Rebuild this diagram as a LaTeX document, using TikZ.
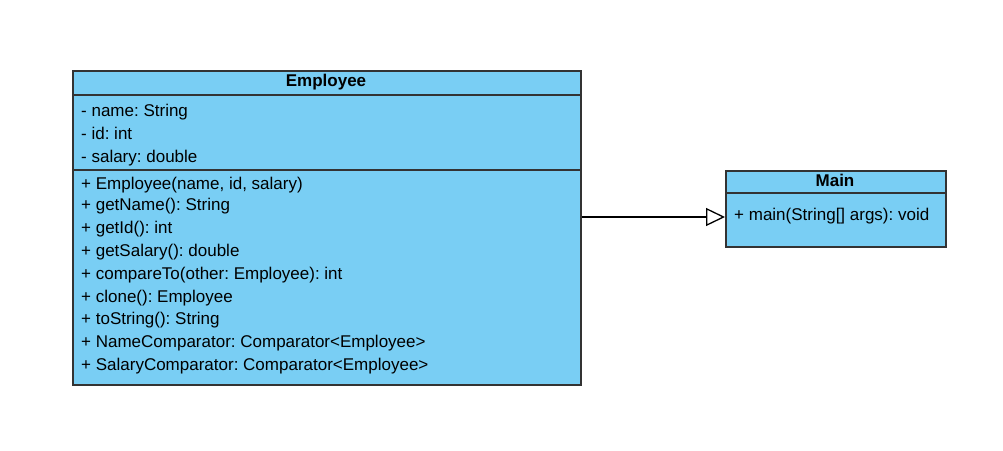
\documentclass[tikz,border=0pt]{standalone}
\usepackage{fontspec}
\setmainfont{Liberation Sans}
\usetikzlibrary{arrows.meta,calc}
\frenchspacing
\definecolor{classfill}{HTML}{79CEF4}
\definecolor{classline}{HTML}{333333}
\tikzset{
  classbox/.style={draw=classline, fill=classfill, line width=1.6pt, inner sep=0pt, anchor=north west},
  sepline/.style={draw=classline, line width=1.6pt},
  member/.style={anchor=base west, inner sep=0pt, font=\fontsize{17}{20}\selectfont},
  title/.style={anchor=base, inner sep=0pt, font=\fontsize{17}{20}\selectfont\bfseries},
  inherit/.style={draw=black, line width=1.3pt, -{Triangle[open, length=19pt, width=18pt, line width=1.3pt]}}
}
\begin{document}
\begin{tikzpicture}[x=1pt, y=-1pt]
\useasboundingbox (0,0) rectangle (1003,450);

% Employee class
\node[classbox, minimum width=508pt, minimum height=314pt] (emp) at (72,70) {};
\draw[sepline] (72,95) -- (580,95);
\draw[sepline] (72,170) -- (580,170);
\node[title] (empname) at (326,86.5) {Employee};
\node[member] (a1) at (81,116) {- name: String};
\node[member] (a2) at (81,139) {- id: int};
\node[member] (a3) at (81,162) {- salary: double};
\node[member] (m1) at (81,189) {+ Employee(name, id, salary)};
\node[member] (m2) at (81,210.5) {+ getName(): String};
\node[member] (m3) at (81,233) {+ getId(): int};
\node[member] (m4) at (81,256) {+ getSalary(): double};
\node[member] (m5) at (81,279) {+ compareTo(other: Employee): int};
\node[member] (m6) at (81,302) {+ clone(): Employee};
\node[member] (m7) at (81,324) {+ toString(): String};
\node[member] (m8) at (81,347) {+ NameComparator: Comparator<Employee>};
\node[member] (m9) at (81,370) {+ SalaryComparator: Comparator<Employee>};

% Main class
\node[classbox, minimum width=220pt, minimum height=76pt] (main) at (725,170) {};
\draw[sepline] (725,193) -- (945,193);
\node[title] (mainname) at (835,186) {Main};
\node[member] (mm1) at (734,220) {+ main(String[] args): void};

% Connector
\coordinate (tip) at (725,217);
\draw[inherit] (emp.east |- tip) -- (tip);
\end{tikzpicture}
\end{document}
